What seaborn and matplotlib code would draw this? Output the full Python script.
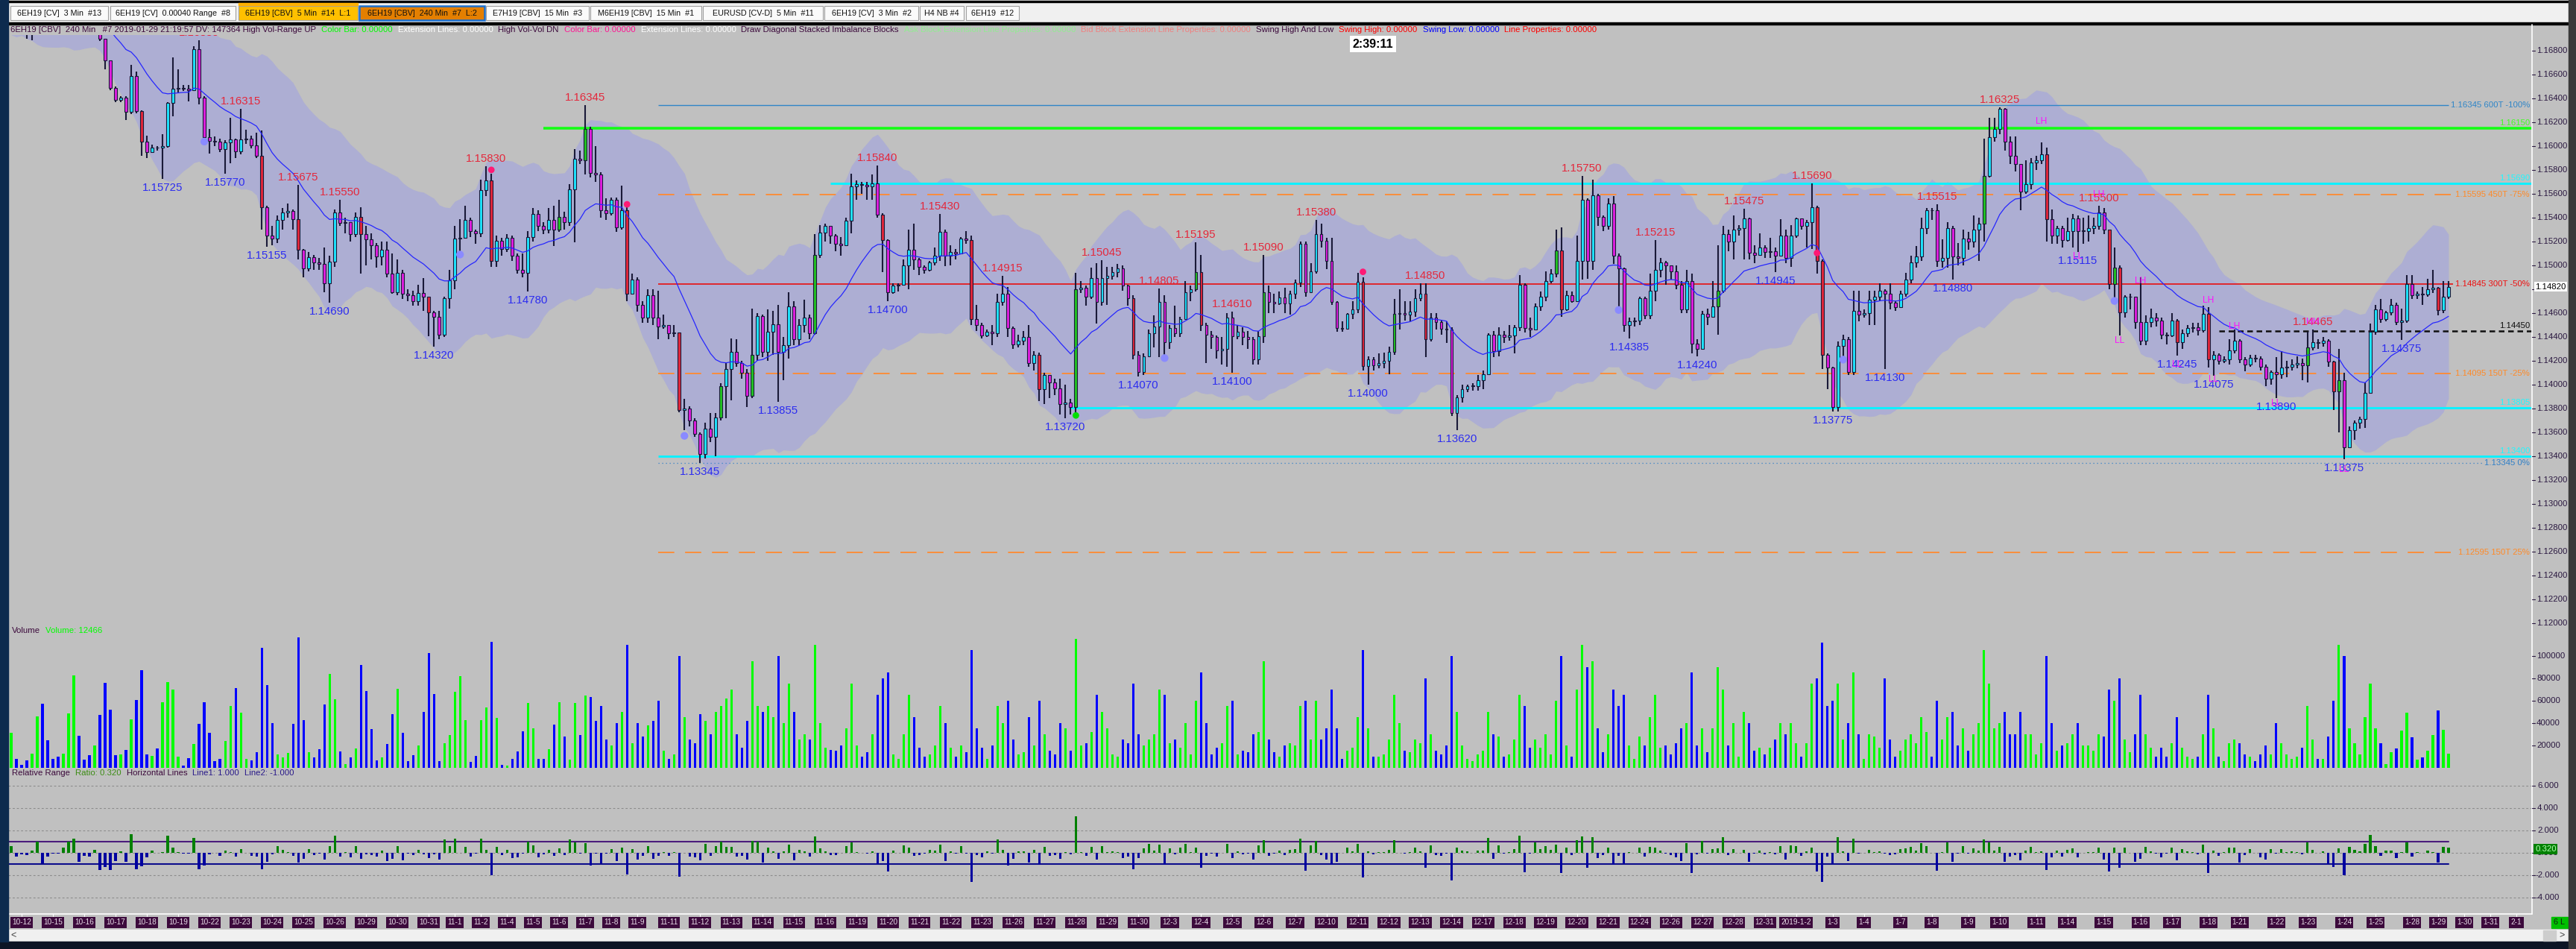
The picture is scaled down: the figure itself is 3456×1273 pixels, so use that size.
import numpy as np
import pandas as pd
import matplotlib
matplotlib.use('Agg')
import matplotlib.pyplot as plt
import seaborn as sns
from matplotlib import font_manager as fm
from matplotlib.patches import Rectangle

# ---------------- data ----------------
# prices stored as 1e-5 above 1.0  (15725 -> 1.15725)
CLOSE = [
    17050, 17020, 17010, 16990, 17010, 17120, 17000, 16960, 16950, 16945, 16990, 17100, 17250, 17150, 17120, 17080, 17110, 16900, 16716, 16490,
    16385, 16405, 16288, 16585, 16295, 16038, 15953, 15990, 15985, 16003, 16361, 16480, 16490, 16480, 16470, 16813, 16406, 16077, 16045, 16040,
    15975, 16030, 16056, 15958, 16056, 16060, 16004, 15920, 15485, 15249, 15222, 15380, 15446, 15455, 15388, 15130, 14973, 15070, 15025, 15010,
    14850, 15033, 15446, 15355, 15365, 15260, 15407, 15262, 15217, 15170, 15077, 15130, 14933, 14775, 14940, 14760, 14750, 14700, 14770, 14735,
    14605, 14570, 14420, 14723, 14875, 15222, 15230, 15380, 15290, 15270, 15630, 15710, 15037, 15209, 15140, 15230, 15080, 14960, 14940, 15235,
    15433, 15330, 15300, 15380, 15300, 15405, 15360, 15640, 15895, 15880, 16143, 15775, 15760, 15460, 15440, 15550, 15320, 15465, 14762, 14880,
    14670, 14565, 14750, 14565, 14486, 14500, 14430, 14440, 13790, 13800, 13697, 13590, 13420, 13630, 13565, 13725, 13986, 14130, 14275, 14180,
    14100, 13905, 14250, 14578, 14276, 14446, 14507, 14276, 14330, 14657, 14380, 14500, 14565, 14430, 15090, 15275, 15334, 15250, 15180, 15170,
    15375, 15665, 15680, 15675, 15660, 15690, 15428, 15210, 14775, 14833, 14840, 15000, 15130, 15050, 14985, 14960, 15025, 15080, 15280, 15080,
    15110, 15100, 15222, 15210, 14552, 14500, 14412, 14445, 14432, 14696, 14762, 14472, 14340, 14370, 14400, 14183, 14250, 13960, 14080, 14020,
    13970, 13840, 13850, 13815, 14802, 14815, 14740, 14893, 14696, 14893, 14912, 14946, 14972, 14830, 14724, 14249, 14105, 14235, 14433, 14486,
    14696, 14354, 14473, 14433, 14551, 14775, 14800, 14946, 14499, 14420, 14400, 14290, 14300, 14565, 14407, 14446, 14400, 14380, 14210, 14407,
    14775, 14696, 14680, 14730, 14680, 14760, 14854, 15183, 14775, 14950, 15262, 15209, 15038, 14696, 14473, 14470, 14591, 14630, 14860, 14157,
    14210, 14160, 14180, 14200, 14275, 14591, 14600, 14590, 14610, 14723, 14760, 14380, 14565, 14525, 14470, 14460, 13762, 13894, 13960, 13986,
    13990, 14040, 14090, 14420, 14280, 14420, 14400, 14410, 14480, 14840, 14473, 14460, 14657, 14735, 14867, 14933, 15123, 14630, 14750, 14700,
    15038, 15551, 15038, 15585, 15406, 15330, 15520, 15080, 14973, 14500, 14530, 14540, 14723, 14583, 14788, 14960, 15025, 15000, 14950, 14840,
    14630, 14867, 14341, 14300, 14591, 14570, 14657, 14788, 15262, 15200, 15300, 15310, 15393, 15104, 15090, 15150, 15110, 15120, 15080, 15250,
    15065, 15250, 15393, 15330, 15360, 15485, 15038, 14250, 14144, 13815, 14328, 14380, 14104, 14617, 14590, 14600, 14710, 14740, 14790, 14760,
    14686, 14650, 14760, 14880, 15025, 15077, 15314, 15465, 15460, 15038, 15060, 15314, 15077, 15060, 15222, 15200, 15300, 15350, 15748, 16078,
    16143, 16314, 16038, 15920, 15850, 15617, 15683, 15860, 15880, 15930, 15385, 15253, 15310, 15210, 15288, 15393, 15288, 15290, 15310, 15330,
    15446, 15300, 14841, 14980, 14604, 14735, 14740, 14525, 14368, 14525, 14565, 14540, 14420, 14410, 14540, 14354, 14433, 14472, 14480, 14455,
    14596, 14210, 14250, 14200, 14210, 14290, 14370, 14210, 14170, 14222, 14220, 14150, 14052, 14104, 14090, 14144, 14150, 14170, 14180, 14160,
    14315, 14355, 14350, 14370, 14196, 13946, 14040, 13474, 13618, 13684, 13710, 13934, 14446, 14630, 14550, 14604, 14670, 14525, 14540, 14841,
    14750, 14760, 14755, 14800, 14815, 14623, 14736, 14820,
]
HIGH = [
    17080, 17070, 17040, 17030, 17040, 17160, 17150, 17020, 16990, 16980, 17010, 17150, 17300, 17260, 17170, 17130, 17140, 17120, 16900, 16716,
    16500, 16420, 16420, 16680, 16625, 16300, 16090, 16010, 16000, 16103, 16370, 16742, 16643, 16510, 16510, 16840, 16885, 16420, 16143, 16080,
    16060, 16050, 16235, 16060, 16315, 16140, 16090, 16110, 16130, 15500, 15330, 15420, 15480, 15520, 15470, 15675, 15140, 15110, 15090, 15060,
    15150, 15080, 15470, 15550, 15400, 15320, 15446, 15485, 15330, 15270, 15190, 15200, 15200, 15100, 15050, 14960, 14800, 14790, 14840, 14895,
    14730, 14620, 14620, 14740, 14960, 15330, 15390, 15500, 15400, 15300, 15720, 15830, 15770, 15250, 15230, 15260, 15250, 15100, 15100, 15290,
    15480, 15460, 15360, 15480, 15500, 15550, 15450, 15680, 15972, 15960, 16345, 16160, 16000, 15780, 15560, 15570, 15570, 15670, 15500, 14930,
    14900, 14700, 14800, 14800, 14790, 14590, 14440, 14500, 14440, 13880, 13820, 13720, 13600, 13680, 13760, 13760, 14010, 14180, 14390, 14380,
    14200, 14130, 14640, 14600, 14590, 14630, 14620, 14670, 14400, 14775, 14700, 14550, 14710, 14590, 15260, 15340, 15350, 15330, 15260, 15240,
    15400, 15770, 15710, 15700, 15700, 15760, 15840, 15440, 15220, 14850, 14850, 15050, 15300, 15350, 15060, 15000, 15040, 15150, 15430, 15300,
    15170, 15140, 15240, 15290, 15250, 14670, 14520, 14460, 14500, 14760, 14915, 14820, 14490, 14420, 14450, 14500, 14280, 14270, 14100, 14050,
    14050, 14050, 14000, 13880, 14940, 14870, 14830, 14980, 15020, 15045, 14990, 14990, 15010, 15000, 14840, 14750, 14280, 14260, 14460, 14580,
    14805, 14750, 14500, 14660, 14570, 14870, 14830, 15195, 15090, 14520, 14450, 14410, 14400, 14600, 14610, 14500, 14480, 14450, 14400, 14450,
    15090, 14830, 14760, 14780, 14810, 14790, 14880, 15200, 15200, 15020, 15380, 15350, 15230, 15230, 14700, 14530, 14600, 14700, 14940, 14900,
    14240, 14230, 14260, 14270, 14320, 14720, 14800, 14700, 14700, 14800, 14850, 14850, 14600, 14600, 14540, 14530, 14480, 13910, 14000, 14000,
    14010, 14080, 14120, 14430, 14450, 14480, 14450, 14500, 14500, 14920, 14850, 14560, 14680, 14780, 14950, 14970, 15300, 15320, 14790, 14780,
    15250, 15750, 15560, 15720, 15600, 15420, 15560, 15580, 15100, 14980, 14560, 14560, 14740, 14740, 14930, 15215, 15060, 15040, 15000, 15000,
    14870, 14960, 14930, 14380, 14620, 14640, 14870, 15170, 15330, 15300, 15420, 15340, 15475, 15400, 15170, 15270, 15170, 15230, 15150, 15390,
    15300, 15340, 15400, 15370, 15380, 15690, 15500, 15050, 14260, 14150, 14360, 14420, 14400, 14790, 14790, 14630, 14790, 14790, 14850, 14800,
    14850, 14700, 14790, 14940, 15080, 15160, 15400, 15480, 15480, 15515, 15220, 15360, 15330, 15190, 15300, 15280, 15420, 15400, 16060, 16235,
    16240, 16325, 16320, 16080, 16080, 15850, 15880, 15900, 15920, 16030, 15990, 15470, 15330, 15330, 15400, 15430, 15420, 15400, 15420, 15400,
    15500, 15480, 15300, 15150, 15000, 14750, 14760, 14720, 14900, 14580, 14640, 14600, 14560, 14440, 14600, 14550, 14460, 14500, 14520, 14520,
    14660, 14650, 14280, 14260, 14240, 14380, 14460, 14380, 14230, 14250, 14250, 14240, 14170, 14120, 14230, 14280, 14200, 14210, 14240, 14220,
    14446, 14465, 14380, 14400, 14380, 14200, 14300, 14100, 13650, 13700, 13730, 14020, 14510, 14670, 14720, 14620, 14720, 14690, 14640, 14920,
    14920, 14780, 14820, 14890, 14960, 14820, 14870, 14870,
]
LOW = [
    16990, 16990, 16990, 16900, 16890, 16990, 16950, 16940, 16935, 16935, 16940, 16960, 17060, 17100, 17090, 17050, 17000, 16880, 16643, 16470,
    16370, 16370, 16216, 16270, 16275, 15920, 15900, 15945, 15960, 15725, 15990, 16253, 16450, 16460, 16375, 16460, 16353, 16030, 15938, 16000,
    15950, 15770, 15855, 15900, 15930, 16020, 15980, 15900, 15300, 15155, 15170, 15190, 15300, 15400, 15300, 15050, 14900, 14950, 14960, 14960,
    14775, 14690, 14990, 15330, 15270, 15200, 15240, 14933, 14998, 15050, 14980, 15000, 14900, 14760, 14750, 14720, 14700, 14660, 14660, 14620,
    14407, 14320, 14380, 14400, 14640, 14800, 15090, 15230, 15240, 15180, 15240, 15580, 14990, 14985, 15080, 15110, 15040, 14930, 14900, 14780,
    15200, 15290, 15260, 15270, 15160, 15280, 15300, 15330, 15196, 15850, 15762, 15740, 15700, 15400, 15380, 15420, 15280, 15300, 14700, 14770,
    14610, 14520, 14520, 14500, 14380, 14470, 14380, 14400, 13770, 13620, 13650, 13560, 13345, 13380, 13520, 13400, 13700, 13720, 13870, 14150,
    14050, 13815, 13890, 14200, 14230, 14200, 14250, 13855, 14040, 14220, 14330, 14330, 14440, 14380, 14420, 15060, 15200, 15180, 15120, 15080,
    15170, 15270, 15550, 15600, 15550, 15550, 15400, 14946, 14700, 14760, 14780, 14830, 14800, 14960, 14920, 14930, 14950, 15000, 15040, 14995,
    15000, 15050, 15100, 15180, 14500, 14450, 14390, 14400, 14330, 14400, 14660, 14400, 14300, 14310, 14330, 14150, 14120, 13860, 13840, 13890,
    13910, 13750, 13720, 13750, 13740, 14770, 14660, 14720, 14512, 14660, 14670, 14880, 14900, 14790, 14660, 14210, 14070, 14080, 14315, 14315,
    14230, 14210, 14300, 14400, 14400, 14550, 14700, 14780, 14450, 14180, 14300, 14220, 14170, 14150, 14100, 14380, 14330, 14300, 14170, 14170,
    14350, 14600, 14600, 14670, 14600, 14590, 14720, 14820, 14740, 14800, 14930, 15150, 14970, 14670, 14446, 14446, 14500, 14550, 14600, 14118,
    14000, 14120, 14140, 14140, 14090, 14250, 14460, 14540, 14530, 14570, 14700, 14230, 14360, 14460, 14420, 14350, 13740, 13620, 13850, 13940,
    13950, 13950, 13960, 14080, 14230, 14240, 14350, 14370, 14260, 14450, 14440, 14400, 14460, 14620, 14700, 14850, 14900, 14570, 14620, 14690,
    14700, 14880, 14890, 14960, 15330, 15290, 15300, 15010, 14640, 14446, 14385, 14490, 14500, 14550, 14550, 14700, 14900, 14840, 14880, 14800,
    14600, 14600, 14260, 14240, 14340, 14500, 14560, 14420, 14770, 15120, 15050, 15250, 15050, 15050, 15020, 15100, 15060, 15060, 14945, 15080,
    15020, 14990, 15230, 15300, 15150, 15140, 14930, 14130, 13960, 13775, 13775, 14240, 14080, 14080, 14530, 14560, 14500, 14500, 14700, 14130,
    14630, 14620, 14650, 14740, 14850, 14980, 15040, 15260, 15380, 14990, 14980, 14980, 14880, 15000, 15000, 15130, 15150, 15040, 15200, 15740,
    16040, 16100, 15960, 15850, 15790, 15460, 15600, 15640, 15800, 15850, 15200, 15180, 15180, 15150, 15200, 15150, 15115, 15180, 15200, 15260,
    15300, 15260, 14800, 14700, 14410, 14560, 14630, 14470, 14330, 14330, 14480, 14490, 14380, 14340, 14400, 14245, 14300, 14400, 14440, 14410,
    14440, 14144, 14075, 14170, 14180, 14170, 14260, 14180, 14110, 14150, 14190, 14120, 13990, 14000, 13890, 14050, 14060, 14120, 14140, 14040,
    14020, 14290, 14300, 14320, 14150, 13790, 13600, 13375, 13470, 13540, 13630, 13640, 13930, 14420, 14520, 14530, 14580, 14500, 14375, 14520,
    14720, 14720, 14670, 14740, 14770, 14580, 14600, 14720,
]
OPEN_FIRST = 16995

# volume in thousands
VOLUME_K = [
    31.5, 8.2, 2.5, 6.6, 12.8, 46, 57, 24.6, 8, 10, 12.8, 48.6, 82.8, 28.5, 7.3, 11, 20.3, 47, 75.7, 52,
    11, 12, 16.2, 43.5, 60.6, 87.3, 12, 10.5, 17.6, 58.8, 76.4, 70.2, 10, 1.8, 8.7, 21, 39.4, 58.6, 31.2, 5.9,
    8, 23.7, 55.2, 71.6, 49, 8, 6.6, 14.1, 107, 74.3, 40, 12, 9.3, 13.5, 39.4, 116.7, 42.9, 14.1, 9.3, 16.9,
    56.5, 83.9, 61.3, 14.8, 3.2, 9.3, 17.6, 92, 68.9, 34.7, 6.6, 9.3, 21, 48.3, 70.9, 31.2, 5.9, 11.4, 20.3, 49.7,
    102.4, 66, 5.9, 22.3, 29.2, 68.2, 81.9, 42.9, 5.2, 10.7, 42.9, 53.8, 112.6, 44.9, 2.5, 1.8, 8, 14.8, 32.6, 57.9,
    35.3, 8, 8, 16.9, 38.8, 58.6, 27.8, 7.3, 57.9, 29.2, 64.8, 63.4,
    42, 55, 25, 20, 40, 50, 110, 22, 40, 28, 38, 42, 60, 15, 8, 12, 100, 45, 25, 22,
    48, 42, 30, 50, 55, 62, 70, 30, 18, 42, 95, 55, 50, 55, 45, 100, 40, 75, 50, 25,
    30, 25, 110, 40, 18, 16, 15, 20, 35, 75, 20, 10, 14, 30, 65, 80, 85, 12, 8, 30,
    65, 45, 18, 10, 12, 20, 55, 40, 18, 10, 20, 14, 105, 35, 18, 8, 20, 55, 40, 60,
    25, 12, 14, 45, 20, 60, 30, 15, 12, 40, 35, 15, 115, 20, 22, 32, 65, 50, 35, 12,
    10, 25, 22, 75, 30, 20, 25, 30, 70, 65, 22, 25, 18, 40, 12, 60, 85, 40, 12, 18,
    22, 55, 60, 12, 15, 14, 30, 32, 95, 25, 14, 10, 20, 22, 20, 55, 60, 25, 60, 25,
    35, 70, 35, 8, 15, 18, 45, 105, 35, 10, 10, 12, 25, 65, 40, 15, 14, 25, 22, 80,
    30, 15, 12, 20, 100, 50, 20, 8, 6, 12, 15, 50, 30, 28, 10, 12, 25, 65, 55, 18,
    25, 18, 30, 12, 60, 100, 20, 10, 70, 110, 90, 95, 35, 14, 30, 70, 55, 65, 20, 8,
    28, 20, 45, 65, 18, 20, 12, 22, 35, 40, 85, 20, 35, 14, 35, 90, 70, 20, 40, 10,
    50, 40, 15, 18, 12, 18, 25, 40, 30, 40, 22, 10, 22, 75, 80, 112, 55, 60, 75, 25,
    40, 85, 30, 8, 30, 28, 18, 80, 25, 10, 15, 25, 30, 22, 45, 32, 10, 60, 25, 45,
    50, 20, 35, 15, 30, 40, 105, 75, 35, 40, 50, 30, 30, 50, 30, 30, 12, 22, 100, 40,
    15, 20, 22, 30, 40, 20, 20, 15, 30, 28, 70, 60, 80, 25, 14, 30, 65, 30, 18, 10,
    18, 10, 22, 45, 18, 10, 8, 10, 30, 65, 35, 10, 6, 22, 25, 22, 12, 10, 6, 12,
    20, 12, 40, 22, 12, 8, 10, 18, 55, 25, 8, 8, 28, 60, 110, 100, 35, 22, 12, 45,
    75, 35, 22, 3, 14, 17, 33, 49, 27, 7, 9.5, 15, 29, 51, 34, 12.466,
]

GREEN_BARS = [105, 110, 136, 142, 154, 204, 227, 240, 265, 296, 327, 378, 403, 440, 446]
RED_BARS = [25, 48, 55, 67, 80, 92, 118, 128, 167, 184, 197, 215, 228, 259, 271, 297,
            346, 347, 390, 402, 404, 415, 421, 445, 465]

SWING_HIGH_BAR = [36, 44, 55, 63, 91, 110, 166, 178, 190, 209, 220, 227, 234, 240, 250, 271,
                  301, 315, 332, 345, 369, 381, 400, 441]
SWING_HIGH_TXT = ['1.16885', '1.16315', '1.15675', '1.15550', '1.15830', '1.16345', '1.15840', '1.15430',
                  '1.14915', '1.15045', '1.14805', '1.15195', '1.14610', '1.15090', '1.15380', '1.14850',
                  '1.15750', '1.15215', '1.15475', '1.15690', '1.15515', '1.16325', '1.15500', '1.14465']
SWING_LOW_BAR = [29, 41, 49, 61, 81, 99, 132, 147, 168, 202, 216, 234, 260, 277, 310, 323, 338,
                 349, 359, 372, 396, 415, 422, 434, 447, 458]
SWING_LOW_TXT = ['1.15725', '1.15770', '1.15155', '1.14690', '1.14320', '1.14780', '1.13345', '1.13855',
                 '1.14700', '1.13720', '1.14070', '1.14100', '1.14000', '1.13620', '1.14385', '1.14240',
                 '1.14945', '1.13775', '1.14130', '1.14880', '1.15115', '1.14245', '1.14075', '1.13890',
                 '1.13375', '1.14375']

STRUCT_BAR = [389, 400, 396, 404, 408, 421, 426, 415, 422, 434, 441, 447]
STRUCT_PRICE = [1.16209, 1.15596, 1.15078, 1.14368, 1.14868, 1.14705, 1.14486, 1.14170,
                1.14045, 1.13842, 1.14525, 1.13290]
STRUCT_TXT = ['LH', 'LH', 'LL', 'LL', 'LH', 'LH', 'LH', 'LL', 'LL', 'LL', 'HH', 'LL']

DOT_UP_BAR = [92, 118, 259, 346]
DOT_UP_PRICE = [1.15801, 1.15512, 1.14946, 1.15104]
DOT_DN_BAR = [37, 86, 129, 221, 308, 351, 403]
DOT_DN_PRICE = [1.16038, 1.15091, 1.13571, 1.14223, 1.14626, 1.14210, 1.14702]
DOT_GREEN_BAR = [204]
DOT_GREEN_PRICE = [1.13742]

LEVELS = [1.16345, 1.16150, 1.15690, 1.15595, 1.14845, 1.14450, 1.14095, 1.13805, 1.13400, 1.13345, 1.12595]
LEVEL_START = [124, 102, 157, 124, 124, 423, 124, 203, 124, 124, 124]
LEVEL_TXT = ['1.16345 600T -100%', '1.16150', '1.15690', '1.15595 450T -75%', '1.14845 300T -50%',
             '1.14450', '1.14095 150T -25%', '1.13805', '1.13400', '1.13345 0%', '1.12595 150T 25%']

DATES = ['10-12', '10-15', '10-16', '10-17', '10-18', '10-19', '10-22', '10-23', '10-24', '10-25', '10-26',
         '10-29', '10-30', '10-31', '11-1', '11-2', '11-4', '11-5', '11-6', '11-7', '11-8', '11-9', '11-11',
         '11-12', '11-13', '11-14', '11-15', '11-16', '11-19', '11-20', '11-21', '11-22', '11-23', '11-26',
         '11-27', '11-28', '11-29', '11-30', '12-3', '12-4', '12-5', '12-6', '12-7', '12-10', '12-11', '12-12',
         '12-13', '12-14', '12-17', '12-18', '12-19', '12-20', '12-21', '12-24', '12-26', '12-27', '12-28',
         '12-31', '2019-1-2', '1-3', '1-4', '1-7', '1-8', '1-9', '1-10', '1-11', '1-14', '1-15', '1-16', '1-17',
         '1-18', '1-21', '1-22', '1-23', '1-24', '1-25', '1-28', '1-29', '1-30', '1-31', '2-1']
DATE_BAR = [2, 8, 14, 20, 26, 32, 38, 44, 50, 56, 62, 68, 74, 80, 85, 90, 95, 100, 105, 110, 115, 120, 126,
            132, 138, 144, 150, 156, 162, 168, 174, 180, 186, 192, 198, 204, 210, 216, 222, 228, 234, 240, 246,
            252, 258, 264, 270, 276, 282, 288, 294, 300, 306, 312, 318, 324, 330, 336, 342, 349, 355, 362, 368,
            375, 381, 388, 394, 401, 408, 414, 421, 427, 434, 440, 447, 453, 460, 465, 470, 475, 480]

TABS = ['6EH19 [CV]  3 Min  #13', '6EH19 [CV]  0.00040 Range  #8', '6EH19 [CBV]  5 Min  #14  L:1',
        '6EH19 [CBV]  240 Min  #7  L:2', 'E7H19 [CBV]  15 Min  #3', 'M6EH19 [CBV]  15 Min  #1',
        'EURUSD [CV-D]  5 Min  #11', '6EH19 [CV]  3 Min  #2', 'H4 NB #4', '6EH19  #12']

DARK = '#3c0a3c'
INFO = [('6EH19 [CBV]  240 Min   #7 2019-01-29 21:19:57 DV: 147364 High Vol-Range UP', DARK),
        ('Color Bar: 0.00000', '#00ff00'), ('Extension Lines: 0.00000', '#ffffff'),
        ('High Vol-Vol DN', DARK), ('Color Bar: 0.00000', '#ff1493'),
        ('Extension Lines: 0.00000', '#ffffff'), ('Draw Diagonal Stacked Imbalance Blocks', DARK),
        ('Ask Block Extension Line Properties: 0.00000', '#90ee90'),
        ('Bid Block Extension Line Properties: 0.00000', '#f08080'),
        ('Swing High And Low', DARK), ('Swing High: 0.00000', '#ff0000'),
        ('Swing Low: 0.00000', '#0000ff'), ('Line Properties: 0.00000', '#ff0000')]

# ---------------- fonts ----------------
sns.set_style('white')
avail = {f.name for f in fm.fontManager.ttflist}
NARROW = next((f for f in ['Liberation Sans Narrow', 'DejaVu Sans Condensed'] if f in avail), None)
SANS = 'Liberation Sans' if 'Liberation Sans' in avail else 'DejaVu Sans'
if NARROW is None:
    NARROW = SANS
    K = 0.82 if SANS == 'Liberation Sans' else 0.72
else:
    K = 1.0
plt.rcParams['font.family'] = [SANS, 'DejaVu Sans']
SW = 10.8 if SANS == 'Liberation Sans' else 9.4

# ---------------- derived series ----------------
N = len(CLOSE)
assert len(HIGH) == N and len(LOW) == N and len(VOLUME_K) == N
c = 1 + np.array(CLOSE) / 1e5
o = np.concatenate([[1 + OPEN_FIRST / 1e5], c[:-1]])
h = np.maximum(1 + np.array(HIGH) / 1e5, np.maximum(o, c))
l = np.minimum(1 + np.array(LOW) / 1e5, np.minimum(o, c))
idx = np.arange(N)

cs = pd.Series(c)
ema = cs.ewm(span=20, adjust=False).mean()
std = cs.rolling(20, min_periods=2).std().fillna(0)
atr = pd.Series(h - l).rolling(20, min_periods=1).mean()
upper = ema + 1.0 * std + 1.3 * atr
lower = ema - 1.0 * std - 1.3 * atr
rr = (c - o) / pd.Series(h - l).rolling(14, min_periods=1).mean().values

# ---------------- figure / pixel helpers ----------------
W, H = 3456, 1273
XMIN, XMAX = -0.57, 483.0
fig = plt.figure(figsize=(W / 100, H / 100), dpi=100, facecolor='#c0c0c0')


def px_axes(x0, y0, x1, y1):
    a = fig.add_axes([x0 / W, 1 - y1 / H, (x1 - x0) / W, (y1 - y0) / H])
    a.set_xlim(XMIN, XMAX)
    a.axis('off')
    return a


def py(p):
    return 68 + (1.168 - p) * 16000


def ix(i):
    return 11 + (i - XMIN) * 3386 / (XMAX - XMIN)


def xi(x):
    return XMIN + (x - 11) * (XMAX - XMIN) / 3386


ax = px_axes(11, 47, 3397, 836)
ax.set_ylim(1.12, 1.169313)
axv = px_axes(11, 836, 3397, 1030)
axv.set_ylim(0, 129.3)
axr = px_axes(11, 1030, 3397, 1226)
axr.set_ylim(-5.4667, 7.6)

ov = fig.add_axes([0, 0, 1, 1])
ov.set_xlim(0, W)
ov.set_ylim(H, 0)
ov.axis('off')
ov.set_zorder(10)
renderer = fig.canvas.get_renderer()

# ---------------- price panel ----------------
ax.fill_between(idx, lower, upper, color='#adaed3', lw=0, zorder=1)

body_col = np.where(c >= o, '#1ee6ff', '#e01ee0').astype(object)
body_col[GREEN_BARS] = '#22c322'
body_col[RED_BARS] = '#e3263a'
ax.vlines(idx, l, h, color='#1a1a38', lw=1.5, zorder=3)
ax.bar(idx, np.maximum(np.abs(c - o), 0.00005), bottom=np.minimum(o, c), width=0.55,
       color=list(body_col), edgecolor='#1a1a38', linewidth=0.8, zorder=4)
sns.lineplot(x=idx, y=ema.values, ax=ax, color='#2626ff', linewidth=0.9, zorder=5)

sns.scatterplot(x=DOT_UP_BAR, y=DOT_UP_PRICE, ax=ax, color='#ff1a75', s=40, edgecolor='none', zorder=6)
sns.scatterplot(x=DOT_DN_BAR, y=DOT_DN_PRICE, ax=ax, color='#8a8aff', s=55, edgecolor='none', zorder=6)
sns.scatterplot(x=DOT_GREEN_BAR, y=DOT_GREEN_PRICE, ax=ax, color='#00e000', s=40, edgecolor='none', zorder=6)

for b, t in zip(SWING_HIGH_BAR, SWING_HIGH_TXT):
    ax.annotate(t, (b, h[b]), xytext=(0, 3), textcoords='offset pixels', ha='center', va='bottom',
                color='#e4283c', fontsize=SW, family=SANS, zorder=7, annotation_clip=False, clip_on=True)
for b, t in zip(SWING_LOW_BAR, SWING_LOW_TXT):
    ax.annotate(t, (b, l[b]), xytext=(0, -5), textcoords='offset pixels', ha='center', va='top',
                color='#2c2cf0', fontsize=SW, family=SANS, zorder=7, annotation_clip=False, clip_on=True)
for b, p, t in zip(STRUCT_BAR, STRUCT_PRICE, STRUCT_TXT):
    ax.text(b, p, t, ha='center', va='center', color='#ff10ff', fontsize=SW * 0.8, family=SANS, zorder=7)

# horizontal levels
styles = [
    dict(color='#2f86c8', lw=1.0, ls='-', lab='mid', tc='#2f86c8'),
    dict(color='#14ff14', lw=2.6, ls='-', lab='above', tc='#40ff20'),
    dict(color='#10f0ff', lw=2.2, ls='-', lab='above', tc='#20f8ff'),
    dict(color='#ff8a30', lw=1.3, ls=(0, (12, 8)), lab='mid', tc='#ff8a28'),
    dict(color='#e81010', lw=1.2, ls='-', lab='mid', tc='#ee1010'),
    dict(color='#101010', lw=1.8, ls=(0, (3, 2)), lab='above', tc='#101010'),
    dict(color='#ff8a30', lw=1.3, ls=(0, (12, 8)), lab='mid', tc='#ff8a28'),
    dict(color='#10f0ff', lw=2.2, ls='-', lab='above', tc='#20f8ff'),
    dict(color='#10f0ff', lw=2.2, ls='-', lab='above', tc='#20f8ff'),
    dict(color='#3080c8', lw=0.9, ls=(0, (1, 3)), lab='mid', tc='#3080c8'),
    dict(color='#ff8a30', lw=1.3, ls=(0, (12, 8)), lab='mid', tc='#ff8a28'),
]
LFS = 10 * K
for p, s0, t, st in zip(LEVELS, LEVEL_START, LEVEL_TXT, styles):
    y = py(p)
    if st['lab'] == 'mid':
        tx = ov.text(3394, y, t, ha='right', va='center', color=st['tc'], fontsize=LFS, family=NARROW)
        x0 = tx.get_window_extent(renderer).x0
        end = xi(x0 - 3)
    else:
        ov.text(3394, y - 2, t, ha='right', va='bottom', color=st['tc'], fontsize=LFS, family=NARROW)
        end = XMAX
    ax.plot([s0, end], [p, p], color=st['color'], lw=st['lw'], ls=st['ls'], zorder=2.5,
            solid_capstyle='butt', clip_on=False)

# ---------------- volume panel ----------------
vcol = np.where(c >= o, '#00ff00', '#0000ff')
axv.bar(idx, VOLUME_K, width=0.45, color=vcol, linewidth=0, zorder=3)

# ---------------- relative range panel ----------------
for g in [6, 4, 2, 0, -2, -4]:
    axr.axhline(g, color='#8c8c8c', lw=0.8, ls=(0, (2.5, 2.5)), zorder=1)
axr.plot([XMIN, N - 1], [1, 1], color='#4b1c7c', lw=1.5, zorder=2)
axr.plot([XMIN, N - 1], [-1, -1], color='#0c0c8c', lw=1.5, zorder=2)
axr.bar(idx, rr, width=0.45, color=np.where(rr >= 0, '#008000', '#0000a0'), linewidth=0, zorder=3)

# ---------------- chrome: borders, tabs, info line ----------------
ov.add_patch(Rectangle((0, 0), W, 31, color='#f0f0f0', zorder=1))
ov.add_patch(Rectangle((0, 1), W, 2, color='#000000', zorder=2))
ov.add_patch(Rectangle((0, 30), W, 3, color='#000000', zorder=2))
TAB_X = [(14, 145), (148, 316), (320, 480), (482, 650), (652, 790), (792, 941), (943, 1104),
         (1106, 1232), (1234, 1293), (1296, 1367)]
for k, (t, (x0, x1)) in enumerate(zip(TABS, TAB_X)):
    fc, ec, lw = '#fafafa', '#a0a0a0', 0.8
    if k == 2:
        fc = '#ffc000'
    if k == 3:
        fc, ec, lw = '#e47f00', '#1a6fd0', 1.8
    ov.add_patch(Rectangle((x0, 8), x1 - x0, 19, fc=fc, ec=ec, lw=lw, zorder=3))
    ov.text((x0 + x1) / 2, 18, t, ha='center', va='center', fontsize=9.5 * K, family=NARROW,
            color='#101010', zorder=4)
ov.add_patch(Rectangle((320, 4), 160, 2.5, color='#ffb000', zorder=3))


def chain(x, y, parts, size, gap=7):
    for s, col in parts:
        tt = ov.text(x, y, s, ha='left', va='center', color=col, fontsize=size, family=NARROW, zorder=5)
        x = tt.get_window_extent(renderer).x1 + gap
    return x


chain(14, 40, INFO, 10 * K)
chain(16, 846, [('Volume', DARK), ('Volume: 12466', '#00ff00')], 10 * K)
chain(16, 1037, [('Relative Range', DARK), ('Ratio: 0.320', '#3c8c14'), ('Horizontal Lines', DARK),
                 ('Line1: 1.000', '#2a1a8a'), ('Line2: -1.000', '#2a1a8a')], 10 * K)

ov.text(1842, 59, '2:39:11', ha='center', va='center', fontsize=11.5, fontweight='bold', family=SANS,
        color='black', bbox=dict(boxstyle='square,pad=0.25', fc='white', ec='none'), zorder=5)

# right price scale
ov.plot([3397, 3397], [33, 1226], color='white', lw=1.2, zorder=3)
ov.plot([11, 3397], [1226, 1226], color='white', lw=1.2, zorder=3)
AX_COL = '#2a1840'
for k in range(25):
    p = 1.120 + 0.002 * k
    y = py(p)
    if y < 40:
        continue
    ov.plot([3397, 3401], [y, y], color=AX_COL, lw=0.8, zorder=3)
    ov.text(3403, y, f'{p:.5f}', ha='left', va='center', fontsize=10 * K, family=NARROW, color=AX_COL, zorder=3)
for v in [20, 40, 60, 80, 100]:
    y = 1030 - v * 1000 / 666.7
    ov.plot([3397, 3401], [y, y], color=AX_COL, lw=0.8, zorder=3)
    ov.text(3403, y, f'{v * 1000}', ha='left', va='center', fontsize=10 * K, family=NARROW, color=AX_COL, zorder=3)
for g in [6, 4, 2, 0, -2, -4]:
    y = 1144 - g * 15
    ov.plot([3397, 3401], [y, y], color=AX_COL, lw=0.8, zorder=3)
    ov.text(3402 if g < 0 else 3404, y, f'{g:.3f}', ha='left', va='center', fontsize=10 * K, family=NARROW,
            color=AX_COL, zorder=3)
ov.text(3401, py(c[-1]), f'{c[-1]:.5f}', ha='left', va='center', fontsize=10 * K, family=NARROW, color='black',
        bbox=dict(boxstyle='square,pad=0.12', fc='white', ec='none'), zorder=6)
ov.text(3401, 1144 - 0.32 * 15, '0.320', ha='left', va='center', fontsize=10 * K, family=NARROW, color='#b8ffb8',
        bbox=dict(boxstyle='square,pad=0.15', fc='#008000', ec='none'), zorder=6)

# date axis
for d, b in zip(DATES, DATE_BAR):
    x = ix(b)
    ov.plot([x, x], [1226, 1229], color='white', lw=0.8, zorder=3)
    ov.text(x, 1237.5, d, ha='center', va='center', fontsize=8.8 * K, family=NARROW, color='#e8dce8',
            bbox=dict(boxstyle='square,pad=0.22', fc='#3c0a3c', ec='none'), zorder=4)
ov.add_patch(Rectangle((3423, 1230), 22, 15, color='#00c000', zorder=4))
ov.text(3434, 1237.5, '6 L', ha='center', va='center', fontsize=9.5 * K, family=NARROW, color='#102010', zorder=5)

# scroll bar, window borders
ov.add_patch(Rectangle((0, 1247), W, 16, color='#f0f0f0', zorder=4))
ov.add_patch(Rectangle((3412, 1248), 17, 14, color='#cdcdcd', zorder=5))
ov.text(18, 1255, '<', ha='center', va='center', fontsize=9, color='#404040', zorder=5)
ov.text(3437, 1255, '>', ha='center', va='center', fontsize=9, color='#404040', zorder=5)
ov.add_patch(Rectangle((0, 1263), W, 10, color='#0c1424', zorder=4))
ov.add_patch(Rectangle((0, 0), 11, 1263, color='#0d2b4e', zorder=6))
ov.add_patch(Rectangle((3446, 0), 10, H, color='#3a3a3a', zorder=6))

fig.savefig('out.png', dpi=100, facecolor=fig.get_facecolor())
